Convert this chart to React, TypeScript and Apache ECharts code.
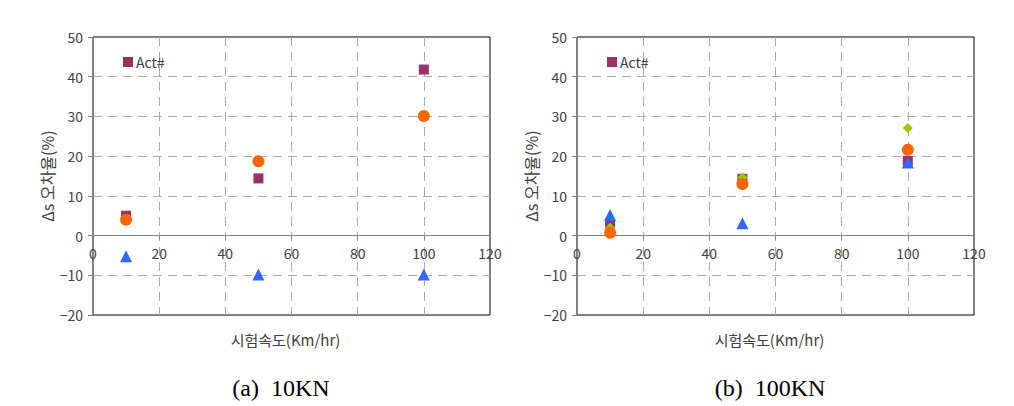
import React, { useEffect, useRef } from "react";
import * as echarts from "echarts";

const speeds = [10, 50, 100];

// (a) 10KN
const actA = [5.0, 14.4, 41.8];
const circleA = [4.0, 18.7, 30.1];
const triA = [-5.2, -9.8, -9.8];

// (b) 100KN
const actB = [3.0, 14.3, 18.8];
const diamondB = [2.0, 14.6, 27.1];
const circleB = [0.7, 13.0, 21.6];
const triB = [5.2, 3.1, 18.4];

const captions = ["(a)  10KN", "(b)  100KN"];
const captionX = [281, 770];
const xName = "시험속도(Km/hr)";
const yName = "Δs 오차율(%)";

const PURPLE = "#993366";
const ORANGE = "#FF6600";
const BLUE = "#3366FF";
const GREEN = "#99CC00";
const FONT = "'Noto Sans CJK KR', 'Noto Sans', sans-serif";
const LABEL = "#404040";

const pts = (ys: number[]) => speeds.map((x, i) => [x, ys[i]]);

export default function App() {
  const ref = useRef<HTMLDivElement>(null);
  useEffect(() => {
    if (!ref.current) return;
    const chart = echarts.init(ref.current, undefined, { renderer: "svg" });
    const grids = [
      { left: 93, top: 37, width: 397, height: 278 },
      { left: 577, top: 37, width: 397, height: 278 },
    ];
    const yMin = -20;
    const yMax = 50;
    const split = {
      show: true,
      showMinLine: false,
      showMaxLine: false,
      lineStyle: { color: "#aaaaaa", type: [9, 6], width: 1 },
    };
    const xAxis = grids.map((g, i) => ({
      type: "value",
      gridIndex: i,
      min: 0,
      max: 120,
      interval: 20,
      offset: -(g.height * (0 - yMin)) / (yMax - yMin),
      axisLine: { onZero: false, lineStyle: { color: "#808080", width: 1 } },
      axisTick: { show: true, length: 4, lineStyle: { color: "#808080" } },
      axisLabel: { color: LABEL, fontSize: 14, fontFamily: FONT, margin: 10 },
      splitLine: split,
    }));
    const yAxis = grids.map((_, i) => ({
      type: "value",
      gridIndex: i,
      min: yMin,
      max: yMax,
      interval: 10,
      axisLine: { show: true, onZero: false, lineStyle: { color: "#808080", width: 1 } },
      axisTick: { show: true, length: 5, lineStyle: { color: "#808080" } },
      axisLabel: {
        color: LABEL,
        fontSize: 14,
        fontFamily: FONT,
        margin: 10,
        formatter: (v: number) => String(v).replace("-", "−"),
      },
      splitLine: split,
    }));
    const sc = (name: string, i: number, data: number[], symbol: string, size: number, color: string, z = 2) => ({
      type: "scatter",
      name,
      xAxisIndex: i,
      yAxisIndex: i,
      data: pts(data),
      symbol,
      symbolSize: size,
      itemStyle: { color, opacity: 1 },
      z,
    });
    const series = [
      sc("Act#", 0, actA, "rect", 10, PURPLE),
      sc("circleA", 0, circleA, "circle", 12, ORANGE, 3),
      sc("triA", 0, triA, "triangle", 12, BLUE, 4),
      sc("Act#", 1, actB, "rect", 10, PURPLE),
      sc("diamondB", 1, diamondB, "diamond", 10, GREEN, 3),
      sc("circleB", 1, circleB, "circle", 12, ORANGE, 4),
      sc("triB", 1, triB, "triangle", 12, BLUE, 5),
    ];
    const legend = grids.map((g) => ({
      data: ["Act#"],
      left: g.left + 25,
      top: 50,
      icon: "rect",
      itemWidth: 10,
      itemHeight: 10,
      itemGap: 4,
      selectedMode: false,
      textStyle: { color: LABEL, fontSize: 14, fontFamily: FONT, padding: [0, 0, 0, -2] },
    }));
    const graphic: any[] = [];
    grids.forEach((g, i) => {
      graphic.push({
        type: "text",
        x: g.left + g.width / 2 - 6,
        y: 339,
        style: { text: xName, fill: LABEL, font: `15px ${FONT}`, textAlign: "center", textVerticalAlign: "middle" },
      });
      graphic.push({
        type: "text",
        x: g.left - 46,
        y: g.top + g.height / 2,
        rotation: Math.PI / 2,
        style: { text: yName, fill: LABEL, font: `16px ${FONT}`, textAlign: "center", textVerticalAlign: "middle" },
      });
      graphic.push({
        type: "text",
        x: captionX[i],
        y: 388,
        style: { text: captions[i], fill: "#000", font: `24px 'Liberation Serif', serif`, textAlign: "center", textVerticalAlign: "middle" },
      });
    });
    chart.setOption({
      animation: false,
      backgroundColor: "#fff",
      grid: grids.map((g) => ({ ...g, show: true, borderColor: "#000", borderWidth: 1, backgroundColor: "transparent" })),
      xAxis,
      yAxis,
      legend,
      series,
      graphic,
    });
    return () => chart.dispose();
  }, []);
  return <div ref={ref} style={{ position: "absolute", left: 0, top: 0, width: 1014, height: 406 }} />;
}
